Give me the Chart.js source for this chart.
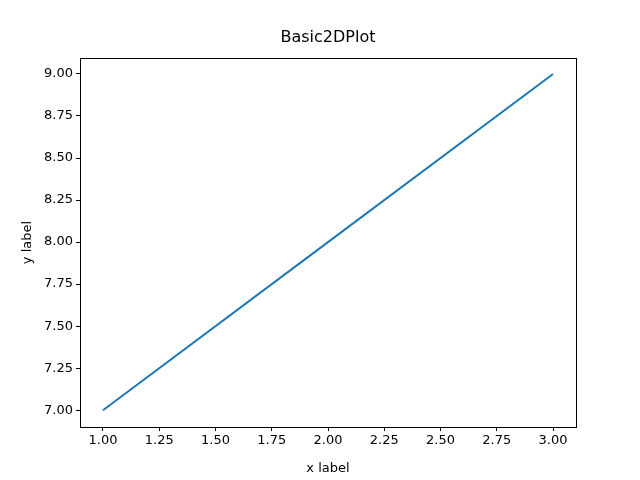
<!DOCTYPE html>
<html>
<head>
<meta charset="utf-8">
<script src="https://cdn.jsdelivr.net/npm/chart.js@4"></script>
<style>
  body { margin: 0; background: #fff; }
  #wrap { width: 640px; height: 480px; }
</style>
</head>
<body>
<div id="wrap"><canvas id="myChart"></canvas></div>
<script>
const xValues = [1, 2, 3];
const yValues = [7, 8, 9];
const xTicks = [1.0, 1.25, 1.5, 1.75, 2.0, 2.25, 2.5, 2.75, 3.0];
const yTicks = [7.0, 7.25, 7.5, 7.75, 8.0, 8.25, 8.5, 8.75, 9.0];

const font = { family: 'DejaVu Sans', size: 13 };

// frame around the plot area
const frame = {
  id: 'frame',
  afterDraw(chart) {
    const a = chart.chartArea, c = chart.ctx;
    c.save();
    c.strokeStyle = '#000';
    c.lineWidth = 1;
    c.strokeRect(a.left + 0.5, a.top + 0.5, a.right - a.left, a.bottom - a.top);
    c.restore();
  }
};

const ctx = document.getElementById('myChart');
new Chart(ctx, {
  type: 'line',
  data: {
    datasets: [{
      data: xValues.map((x, i) => ({ x, y: yValues[i] })),
      borderColor: '#1f77b4',
      borderWidth: 2,
      pointRadius: 0,
      tension: 0
    }]
  },
  options: {
    responsive: true,
    maintainAspectRatio: false,
    animation: false,
    layout: { padding: { left: 16, right: 0, top: 0, bottom: 0 } },
    plugins: {
      legend: { display: false },
      tooltip: { enabled: false },
      title: {
        display: true,
        text: 'Basic2DPlot',
        color: '#000',
        font: { family: 'DejaVu Sans', size: 16, weight: 'normal' },
        padding: { top: 28, bottom: 10.8 }
      }
    },
    scales: {
      x: {
        type: 'linear',
        min: 0.898,
        max: 3.102,
        afterBuildTicks: s => { s.ticks = xTicks.map(v => ({ value: v })); },
        afterFit: s => { s.height = 53; },
        ticks: { color: '#000', font, maxRotation: 0, padding: 2,
                 callback: v => v.toFixed(2) },
        grid: { drawOnChartArea: false, tickLength: 4, tickColor: '#000' },
        border: { display: false },
        title: { display: true, text: 'x label', color: '#000', font, padding: { top: 2 } }
      },
      y: {
        type: 'linear',
        min: 6.9,
        max: 9.095,
        afterBuildTicks: s => { s.ticks = yTicks.map(v => ({ value: v })); },
        afterFit: s => { s.width = 64; },
        ticks: { color: '#000', font, padding: 3,
                 callback: v => v.toFixed(2) },
        grid: { drawOnChartArea: false, tickLength: 4, tickColor: '#000' },
        border: { display: false },
        title: { display: true, text: 'y label', color: '#000', font, padding: { bottom: 4 } }
      },
      y2: {
        position: 'right',
        afterFit: s => { s.width = 64; },
        ticks: { display: false },
        grid: { display: false },
        border: { display: false }
      }
    }
  },
  plugins: [frame]
});
</script>
</body>
</html>
